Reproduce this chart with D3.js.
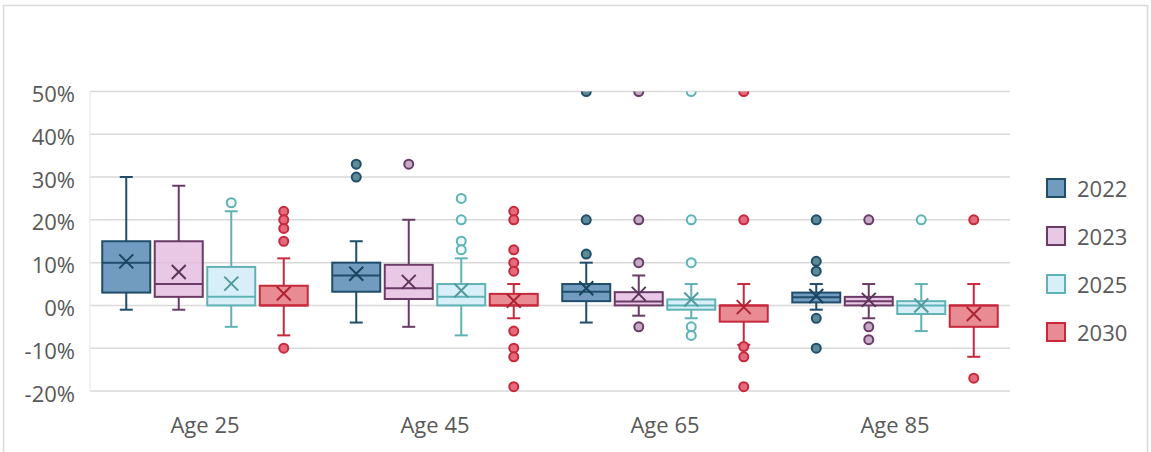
<!DOCTYPE html>
<html>
<head>
<meta charset="utf-8">
<script src="https://cdn.jsdelivr.net/npm/d3@7"></script>
<style>
  html, body { margin: 0; padding: 0; background: #fff; }
  svg { display: block; }
  text { font-family: "Open Sans", "Noto Sans", sans-serif; fill: #595959; }
</style>
</head>
<body>
<svg id="chart" width="1151" height="452"></svg>
<script>
// Categories and series
const categories = ["Age 25", "Age 45", "Age 65", "Age 85"];
const series = ["2022", "2023", "2025", "2030"];
const yTicks = [-20, -10, 0, 10, 20, 30, 40, 50];

// Box statistics in percent; rows follow `series`, columns follow `categories`
const whiskerLow = [
  [-1, -4, -4, -1],
  [-1, -5, -2.4, -3],
  [-5, -7, -3, -6],
  [-7, -3, -9.2, -12]
];
const q1 = [
  [3, 3.2, 1, 0.7],
  [2, 1.5, 0, 0],
  [0, 0, -1, -2],
  [0, 0, -3.8, -5]
];
const median = [
  [10, 7, 3.2, 1.9],
  [5, 4, 0.9, 1],
  [2, 2, 0, 0],
  [0, 0, 0, 0]
];
const q3 = [
  [15, 10, 5, 3],
  [15, 9.5, 3.1, 2],
  [9, 5, 1.4, 1],
  [4.6, 2.7, 0, 0]
];
const whiskerHigh = [
  [30, 15, 10, 5],
  [28, 20, 7, 5],
  [22, 11, 5, 5],
  [11, 5, 5, 5]
];
const mean = [
  [10.3, 7.4, 4, 2.2],
  [7.8, 5.5, 2.7, 1.3],
  [5.1, 3.5, 1.4, 0],
  [2.8, 1.1, -0.4, -2]
];
const outliers = [
  [[], [33, 30], [50, 20, 12], [20, 10.3, 8, -3, -10]],
  [[], [33], [50, 20, 10, -5], [20, -5, -8]],
  [[24], [25, 20, 15, 13], [50, 20, 10, -5, -7], [20]],
  [[22, 20, 18, 15, -10], [22, 20, 13, 10, 8, -6, -10, -12, -19], [50, 20, -9.6, -12, -19], [20, -17]]
];

// Styling per series
const boxFill = ["#4a80ad", "#e3b8de", "#cdebf8", "#e26a74"];
const boxStroke = ["#1f4d6b", "#6b3b68", "#5fb3b5", "#c8283c"];
const dotFill = ["#5d8a95", "#c4aac3", "#eef8f8", "#e46b7e"];

const svg = d3.select("#chart");
const plot = { left: 90, right: 1010, top: 91.5, bottom: 391 };
const fontSize = "22px";

// Outer frame
svg.append("rect")
  .attr("x", 3.5).attr("y", 5.5)
  .attr("width", 1144).attr("height", 470)
  .attr("fill", "none").attr("stroke", "#d9d9d9").attr("stroke-width", 1.5);

const x0 = d3.scaleBand().domain(categories).range([plot.left, plot.right]);
const x1 = d3.scaleBand().domain(series).range([10, x0.bandwidth() - 10]).paddingInner(0.08).paddingOuter(0.04);
const y = d3.scaleLinear().domain([-20, 50]).range([plot.bottom, plot.top]);

// Gridlines
svg.append("g").selectAll("line").data(yTicks).join("line")
  .attr("x1", plot.left).attr("x2", plot.right)
  .attr("y1", d => y(d)).attr("y2", d => y(d))
  .attr("stroke", "#d9d9d9").attr("stroke-width", 1.5);

svg.append("line")
  .attr("x1", plot.left).attr("x2", plot.left)
  .attr("y1", plot.top).attr("y2", plot.bottom)
  .attr("stroke", "#e6e6e6").attr("stroke-width", 1);

// Y axis labels
const yAxis = d3.axisLeft(y).tickValues(yTicks).tickFormat(d => d + "%").tickSize(0).tickPadding(0);
const gy = svg.append("g").attr("transform", "translate(75,3)").call(yAxis);
gy.select(".domain").remove();
gy.selectAll("text").style("font-size", fontSize).attr("fill", "#595959")
  .style("font-family", '"Open Sans", sans-serif');

// X axis labels
const xAxis = d3.axisBottom(x0).tickSize(0).tickPadding(0);
const gx = svg.append("g").attr("transform", "translate(0,417)").call(xAxis);
gx.select(".domain").remove();
gx.selectAll("text").style("font-size", fontSize).attr("fill", "#595959")
  .style("font-family", '"Open Sans", sans-serif');

// Clip for the plotting area
svg.append("defs").append("clipPath").attr("id", "plotClip")
  .append("rect").attr("x", plot.left).attr("y", plot.top)
  .attr("width", plot.right - plot.left).attr("height", plot.bottom - plot.top + 10);

const marks = svg.append("g").attr("clip-path", "url(#plotClip)");

const boxData = [];
series.forEach((s, si) => {
  categories.forEach((c, ci) => {
    boxData.push({ s, si, c, ci,
      lo: whiskerLow[si][ci], q1: q1[si][ci], med: median[si][ci],
      q3: q3[si][ci], hi: whiskerHigh[si][ci], mean: mean[si][ci],
      out: outliers[si][ci] });
  });
});

const boxW = 48, capW = 13, xr = 7;
const groups = marks.selectAll("g.box").data(boxData).join("g")
  .attr("class", "box")
  .attr("transform", d => `translate(${x0(d.c) + x1(d.s) + x1.bandwidth() / 2},0)`);

// Whiskers
groups.append("line")
  .attr("x1", 0).attr("x2", 0).attr("y1", d => y(d.hi)).attr("y2", d => y(d.q3))
  .attr("stroke", d => boxStroke[d.si]).attr("stroke-width", 2);
groups.append("line")
  .attr("x1", 0).attr("x2", 0).attr("y1", d => y(d.lo)).attr("y2", d => y(d.q1))
  .attr("stroke", d => boxStroke[d.si]).attr("stroke-width", 2);
groups.append("line")
  .attr("x1", -capW / 2).attr("x2", capW / 2).attr("y1", d => y(d.hi)).attr("y2", d => y(d.hi))
  .attr("stroke", d => boxStroke[d.si]).attr("stroke-width", 2);
groups.append("line")
  .attr("x1", -capW / 2).attr("x2", capW / 2).attr("y1", d => y(d.lo)).attr("y2", d => y(d.lo))
  .attr("stroke", d => boxStroke[d.si]).attr("stroke-width", 2);

// Box
groups.append("rect")
  .attr("x", -boxW / 2).attr("width", boxW)
  .attr("y", d => y(d.q3)).attr("height", d => y(d.q1) - y(d.q3))
  .attr("fill", d => boxFill[d.si]).attr("fill-opacity", 0.78)
  .attr("stroke", d => boxStroke[d.si]).attr("stroke-width", 2);

// Median
groups.append("line")
  .attr("x1", -boxW / 2).attr("x2", boxW / 2).attr("y1", d => y(d.med)).attr("y2", d => y(d.med))
  .attr("stroke", d => boxStroke[d.si]).attr("stroke-width", 2);

// Mean marker
groups.append("path")
  .attr("d", d => `M${-xr},${y(d.mean) - xr}L${xr},${y(d.mean) + xr}M${-xr},${y(d.mean) + xr}L${xr},${y(d.mean) - xr}`)
  .attr("stroke", d => d3.color(boxStroke[d.si]).darker(0.4)).attr("stroke-width", 2).attr("fill", "none");

// Outliers
groups.selectAll("circle").data(d => d.out.map(v => ({ v, si: d.si }))).join("circle")
  .attr("cx", 0).attr("cy", d => y(d.v)).attr("r", 4.5)
  .attr("fill", d => dotFill[d.si])
  .attr("stroke", d => boxStroke[d.si]).attr("stroke-width", 2);

// Legend
const legend = svg.append("g").selectAll("g").data(series).join("g")
  .attr("transform", (d, i) => `translate(1047,${188 + i * 48})`);
legend.append("rect")
  .attr("x", 0).attr("y", -9).attr("width", 18).attr("height", 18)
  .attr("fill", (d, i) => boxFill[i]).attr("fill-opacity", 0.78)
  .attr("stroke", (d, i) => boxStroke[i]).attr("stroke-width", 2);
legend.append("text")
  .attr("x", 30).attr("y", 1).attr("dy", "0.35em")
  .style("font-size", fontSize)
  .text(d => d);
</script>
</body>
</html>
